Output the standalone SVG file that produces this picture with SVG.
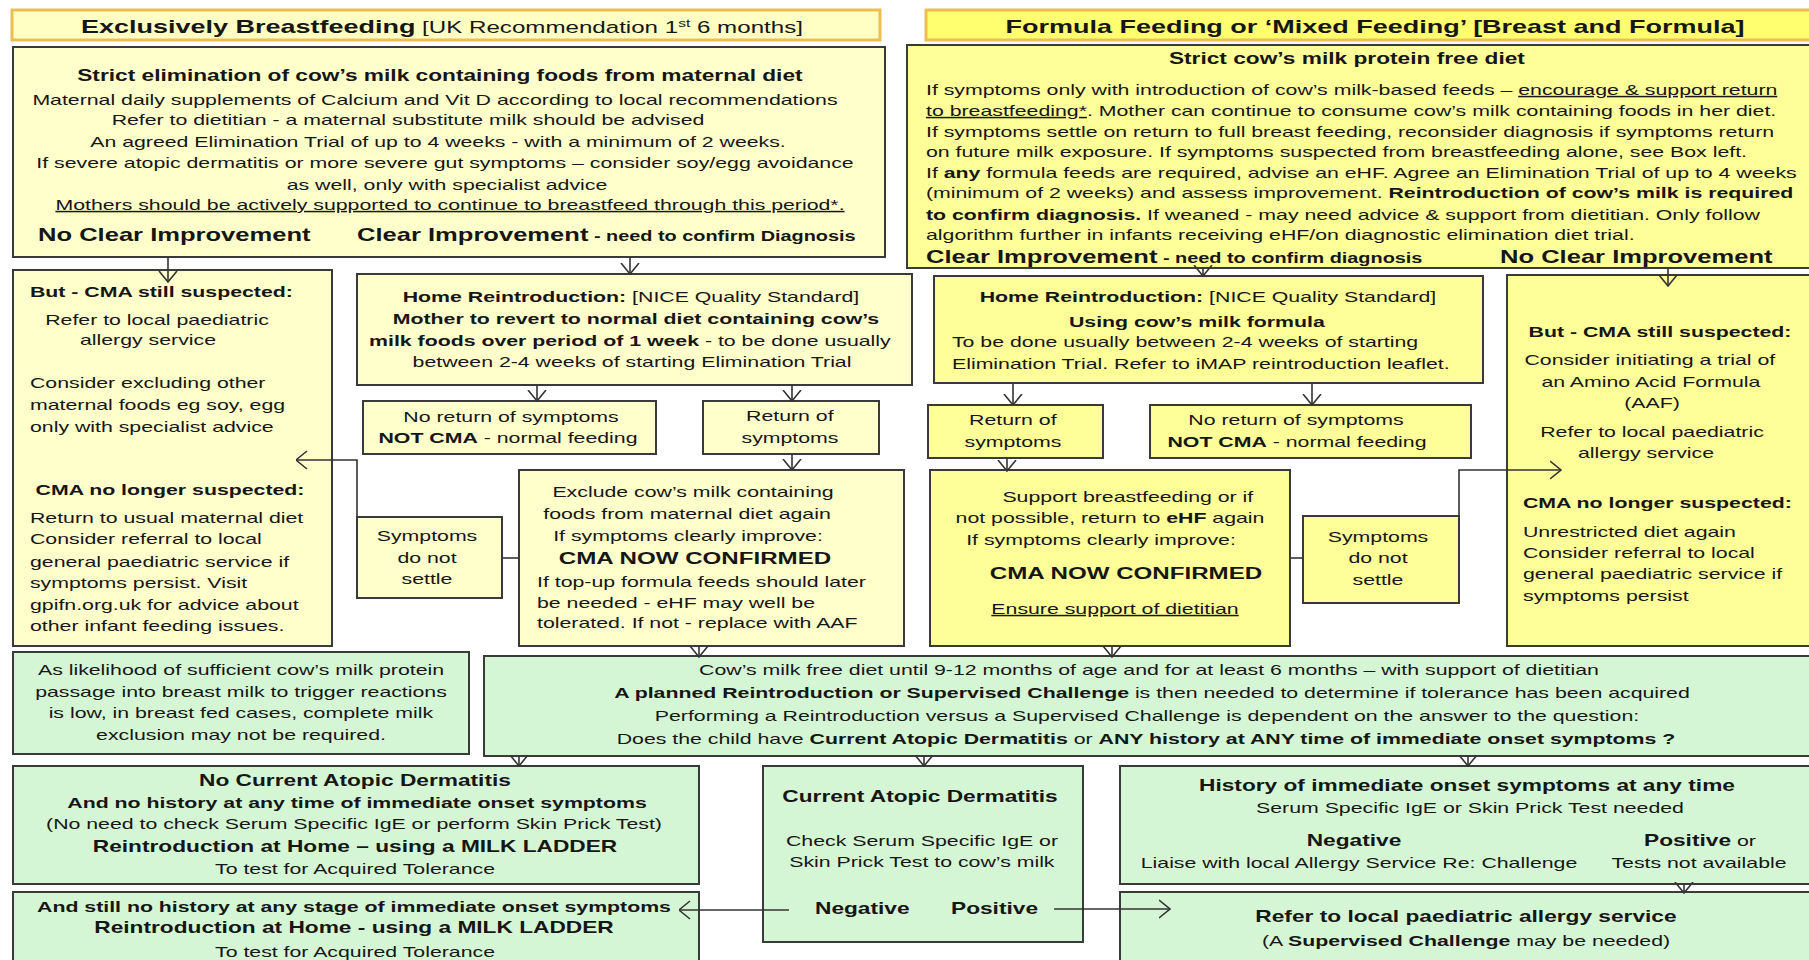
<svg xmlns="http://www.w3.org/2000/svg" width="1809" height="960" viewBox="0 0 1809 960">
<style>
.t{font-family:"Liberation Sans",Arial,sans-serif;font-size:15px;fill:#161616;transform-box:fill-box;transform:scaleX(1.42)}
.m{text-anchor:middle;transform-origin:50% 50%}
.s{text-anchor:start;transform-origin:0% 50%}
.b{font-weight:bold}
.u{text-decoration:underline}
.f16{font-size:16px}
.f17{font-size:17px}
.f18{font-size:18px}
.f19{font-size:19px}
.f14{font-size:14px}
.yl{fill:#FFFFCC;stroke:#3a3a3a;stroke-width:2}
.yr{fill:#FFFF99;stroke:#3a3a3a;stroke-width:2}
.g{fill:#D5F6D5;stroke:#3a3a3a;stroke-width:2}
.h1{fill:#FFFFC4;stroke:#EBBE55;stroke-width:3}
.h2{fill:#FFFF70;stroke:#EBBE55;stroke-width:3}
.c{fill:none;stroke:#333;stroke-width:1.6}
</style>
<defs>
<marker id="ar" viewBox="0 0 12 20" refX="11.5" refY="10" markerWidth="12" markerHeight="20" markerUnits="userSpaceOnUse" orient="auto">
<path d="M0.5,1 L11.5,10 L0.5,19" fill="none" stroke="#333" stroke-width="1.6"/>
</marker>
</defs>
<rect width="1809" height="960" fill="#ffffff"/>

<g id="hdrL">
<rect class="h1" x="12" y="10" width="868" height="30"/>
<text class="t m f17" x="442" y="33"><tspan class="b f19">Exclusively Breastfeeding</tspan> [UK Recommendation 1<tspan font-size="11" dy="-6">st</tspan><tspan dy="6"> 6 months]</tspan></text>
</g>
<g id="hdrR">
<rect class="h2" x="926" y="10" width="895" height="30"/>
<text class="t m b f19" x="1375" y="33">Formula Feeding or ‘Mixed Feeding’ [Breast and Formula]</text>
</g>

<g id="mainL">
<rect class="yl" x="13" y="47" width="872" height="210"/>
<text class="t m b f16" x="440" y="81">Strict elimination of cow’s milk containing foods from maternal diet</text>
<text class="t m" x="435" y="105">Maternal daily supplements of Calcium and Vit D according to local recommendations</text>
<text class="t m" x="408" y="125">Refer to dietitian - a maternal substitute milk should be advised</text>
<text class="t m" x="438" y="147">An agreed Elimination Trial of up to 4 weeks - with a minimum of 2 weeks.</text>
<text class="t m" x="445" y="168">If severe atopic dermatitis or more severe gut symptoms – consider soy/egg avoidance</text>
<text class="t m" x="447" y="190">as well, only with specialist advice</text>
<text class="t m u" x="450" y="210">Mothers should be actively supported to continue to breastfeed through this period*.</text>
<text class="t s b f18" x="38" y="241">No Clear Improvement</text>
<text class="t s b f18" x="357" y="241">Clear Improvement<tspan class="f14"> - need to confirm Diagnosis</tspan></text>
</g>

<g id="mainR">
<rect class="yr" x="907" y="45" width="912" height="223"/>
<text class="t m b f16" x="1347" y="64">Strict cow’s milk protein free diet</text>
<text class="t s" x="926" y="95">If symptoms only with introduction of cow’s milk-based feeds – <tspan class="u">encourage &amp; support return</tspan></text>
<text class="t s" x="926" y="116"><tspan class="u">to breastfeeding*</tspan>. Mother can continue to consume cow’s milk containing foods in her diet.</text>
<text class="t s" x="926" y="137">If symptoms settle on return to full breast feeding, reconsider diagnosis if symptoms return</text>
<text class="t s" x="926" y="157">on future milk exposure.  If symptoms suspected from breastfeeding alone, see Box left.</text>
<text class="t s" x="926" y="178">If <tspan class="b">any</tspan> formula feeds are required, advise an eHF. Agree an Elimination Trial of up to 4 weeks</text>
<text class="t s" x="926" y="198">(minimum of 2 weeks) and assess improvement. <tspan class="b">Reintroduction of cow’s milk is required</tspan></text>
<text class="t s" x="926" y="220"><tspan class="b">to confirm diagnosis.</tspan> If weaned - may need advice &amp; support from dietitian. Only follow</text>
<text class="t s" x="926" y="240">algorithm further in infants receiving eHF/on diagnostic elimination diet trial.</text>
<text class="t s b f18" x="926" y="263">Clear Improvement<tspan class="f14"> - need to confirm diagnosis</tspan></text>
<text class="t s b f18" x="1500" y="263">No Clear Improvement</text>
</g>

<g id="cmaL">
<rect class="yl" x="13" y="270" width="319" height="376"/>
<text class="t s b" x="30" y="297">But - CMA still suspected:</text>
<text class="t m" x="157" y="325">Refer to local paediatric</text>
<text class="t m" x="148" y="345">allergy service</text>
<text class="t s" x="30" y="388">Consider excluding other</text>
<text class="t s" x="30" y="410">maternal foods eg soy, egg</text>
<text class="t s" x="30" y="432">only with specialist advice</text>
<text class="t m b" x="170" y="495">CMA no longer suspected:</text>
<text class="t s" x="30" y="523">Return to usual maternal diet</text>
<text class="t s" x="30" y="544">Consider referral to local</text>
<text class="t s" x="30" y="567">general paediatric service if</text>
<text class="t s" x="30" y="588">symptoms persist. Visit</text>
<text class="t s" x="30" y="610">gpifn.org.uk for advice about</text>
<text class="t s" x="30" y="631">other infant feeding issues.</text>
</g>

<g id="hrL">
<rect class="yl" x="357" y="274" width="555" height="111"/>
<text class="t m" x="631" y="302"><tspan class="b">Home Reintroduction:</tspan>    [NICE Quality Standard]</text>
<text class="t m b" x="636" y="324">Mother to revert to normal diet containing cow’s</text>
<text class="t m" x="630" y="346"><tspan class="b">milk foods over period of 1 week</tspan> - to be done usually</text>
<text class="t m" x="632" y="367">between 2-4 weeks of starting Elimination Trial</text>
</g>

<g id="noretL">
<rect class="yl" x="363" y="401" width="293" height="53"/>
<text class="t m" x="511" y="422">No return of symptoms</text>
<text class="t m" x="508" y="443"><tspan class="b">NOT CMA</tspan> - normal feeding</text>
</g>

<g id="retL">
<rect class="yl" x="703" y="401" width="176" height="53"/>
<text class="t m" x="790" y="421">Return of</text>
<text class="t m" x="790" y="443">symptoms</text>
</g>

<g id="sympL">
<rect class="yl" x="357" y="517" width="145" height="81"/>
<text class="t m" x="427" y="541">Symptoms</text>
<text class="t m" x="427" y="563">do not</text>
<text class="t m" x="427" y="584">settle</text>
</g>

<g id="exclL">
<rect class="yl" x="519" y="470" width="385" height="176"/>
<text class="t m" x="693" y="497">Exclude cow’s milk containing</text>
<text class="t m" x="687" y="519">foods from maternal diet again</text>
<text class="t m" x="688" y="541">If symptoms clearly improve:</text>
<text class="t m b f17" x="695" y="564">CMA NOW CONFIRMED</text>
<text class="t s" x="537" y="587">If top-up formula feeds should later</text>
<text class="t s" x="537" y="608">be needed - eHF may well be</text>
<text class="t s" x="537" y="628">tolerated. If not - replace with AAF</text>
</g>

<g id="hrR">
<rect class="yr" x="934" y="276" width="549" height="107"/>
<text class="t m" x="1208" y="302"><tspan class="b">Home Reintroduction:</tspan>    [NICE Quality Standard]</text>
<text class="t m b" x="1197" y="327">Using cow’s milk formula</text>
<text class="t s" x="952" y="347">To be done usually between 2-4 weeks of starting</text>
<text class="t s" x="952" y="369">Elimination Trial. Refer to iMAP reintroduction leaflet.</text>
</g>

<g id="retR">
<rect class="yr" x="928" y="405" width="175" height="53"/>
<text class="t m" x="1013" y="425">Return of</text>
<text class="t m" x="1013" y="447">symptoms</text>
</g>

<g id="noretR">
<rect class="yr" x="1150" y="405" width="321" height="53"/>
<text class="t m" x="1296" y="425">No return of symptoms</text>
<text class="t m" x="1297" y="447"><tspan class="b">NOT CMA</tspan> - normal feeding</text>
</g>

<g id="supR">
<rect class="yr" x="930" y="470" width="360" height="176"/>
<text class="t m" x="1128" y="502">Support breastfeeding or if</text>
<text class="t m" x="1110" y="523">not possible, return to <tspan class="b">eHF</tspan> again</text>
<text class="t m" x="1101" y="545">If symptoms clearly improve:</text>
<text class="t m b f17" x="1126" y="579">CMA NOW CONFIRMED</text>
<text class="t m u" x="1115" y="614">Ensure support of dietitian</text>
</g>

<g id="sympR">
<rect class="yr" x="1303" y="516" width="156" height="87"/>
<text class="t m" x="1378" y="542">Symptoms</text>
<text class="t m" x="1378" y="563">do not</text>
<text class="t m" x="1378" y="585">settle</text>
</g>

<g id="cmaR">
<rect class="yr" x="1507" y="275" width="312" height="371"/>
<text class="t m b" x="1660" y="337">But - CMA still suspected:</text>
<text class="t m" x="1650" y="365">Consider initiating a trial of</text>
<text class="t m" x="1651" y="387">an Amino Acid Formula</text>
<text class="t m" x="1652" y="408">(AAF)</text>
<text class="t m" x="1652" y="437">Refer to local paediatric</text>
<text class="t m" x="1646" y="458">allergy service</text>
<text class="t s b" x="1523" y="508">CMA no longer suspected:</text>
<text class="t s" x="1523" y="537">Unrestricted diet again</text>
<text class="t s" x="1523" y="558">Consider referral to local</text>
<text class="t s" x="1523" y="579">general paediatric service if</text>
<text class="t s" x="1523" y="601">symptoms persist</text>
</g>

<g id="likely">
<rect class="g" x="13" y="652" width="456" height="102"/>
<text class="t m" x="241" y="675">As likelihood of sufficient cow’s milk protein</text>
<text class="t m" x="241" y="697">passage into breast milk to trigger reactions</text>
<text class="t m" x="241" y="718">is low, in breast fed cases, complete milk</text>
<text class="t m" x="241" y="740">exclusion may not be required.</text>
</g>

<g id="cows">
<rect class="g" x="484" y="656" width="1335" height="100"/>
<text class="t m" x="1149" y="675">Cow’s milk free diet until 9-12 months of age and for at least 6 months – with support of dietitian</text>
<text class="t m" x="1152" y="698"><tspan class="b">A planned Reintroduction or Supervised Challenge</tspan> is then needed to determine if tolerance has been acquired</text>
<text class="t m" x="1147" y="721">Performing a Reintroduction versus a Supervised Challenge is dependent on the answer to the question:</text>
<text class="t m" x="1146" y="744">Does the child have <tspan class="b">Current Atopic Dermatitis</tspan> or <tspan class="b">ANY history at ANY time of immediate onset symptoms ?</tspan></text>
</g>

<g id="noAD">
<rect class="g" x="13" y="766" width="686" height="118"/>
<text class="t m b f16" x="355" y="786">No Current Atopic Dermatitis</text>
<text class="t m b" x="357" y="808">And no history at any time of immediate onset symptoms</text>
<text class="t m" x="354" y="829">(No need to check Serum Specific IgE or perform Skin Prick Test)</text>
<text class="t m b f16" x="355" y="852">Reintroduction at Home – using a MILK LADDER</text>
<text class="t m" x="355" y="874">To test for Acquired Tolerance</text>
</g>

<g id="curAD">
<rect class="g" x="763" y="766" width="320" height="176"/>
<text class="t m b f16" x="920" y="802">Current Atopic Dermatitis</text>
<text class="t m" x="922" y="846">Check Serum Specific IgE or</text>
<text class="t m" x="922" y="867">Skin Prick Test to cow’s milk</text>
<text class="t s b f16" x="815" y="914">Negative</text>
<text class="t s b f16" x="951" y="914">Positive</text>
</g>

<g id="hist">
<rect class="g" x="1120" y="766" width="699" height="118"/>
<text class="t m b f16" x="1467" y="791">History of immediate onset symptoms at any time</text>
<text class="t m" x="1470" y="813">Serum Specific IgE or Skin Prick Test needed</text>
<text class="t m b f16" x="1354" y="846">Negative</text>
<text class="t m" x="1359" y="868">Liaise with local Allergy Service Re: Challenge</text>
<text class="t s" x="1644" y="846"><tspan class="b f16">Positive</tspan> or</text>
<text class="t m" x="1699" y="868">Tests not available</text>
</g>

<g id="refer">
<rect class="g" x="1120" y="892" width="699" height="80"/>
<text class="t m b f16" x="1466" y="922">Refer to local paediatric allergy service</text>
<text class="t m" x="1466" y="946">(A <tspan class="b">Supervised Challenge</tspan> may be needed)</text>
</g>

<g id="still">
<rect class="g" x="13" y="892" width="686" height="80"/>
<text class="t m b" x="354" y="912">And still no history at any stage of immediate onset symptoms</text>
<text class="t m b f16" x="354" y="933">Reintroduction at Home - using a MILK LADDER</text>
<text class="t m" x="355" y="957">To test for Acquired Tolerance</text>
</g>

<g id="connectors" class="c" marker-end="url(#ar)">
<path d="M168,257 V282"/>
<path d="M630,257 V274"/>
<path d="M537,385 V401"/>
<path d="M792,385 V401"/>
<path d="M792,454 V470"/>
<path d="M502,558 H519" marker-end="none"/>
<path d="M357,517 V460 H296"/>
<path d="M699,646 V657"/>
<path d="M1203,268 V276"/>
<path d="M1668,268 V286"/>
<path d="M1013,383 V405"/>
<path d="M1312,383 V405"/>
<path d="M1007,458 V471"/>
<path d="M1290,558 H1303" marker-end="none"/>
<path d="M1459,516 V470 H1561"/>
<path d="M1112,646 V657"/>
<path d="M519,756 V766"/>
<path d="M924,756 V766"/>
<path d="M1468,756 V766"/>
<path d="M1684,884 V893"/>
<path d="M789,910 H679"/>
<path d="M1054,909 H1170"/>
</g>
</svg>
